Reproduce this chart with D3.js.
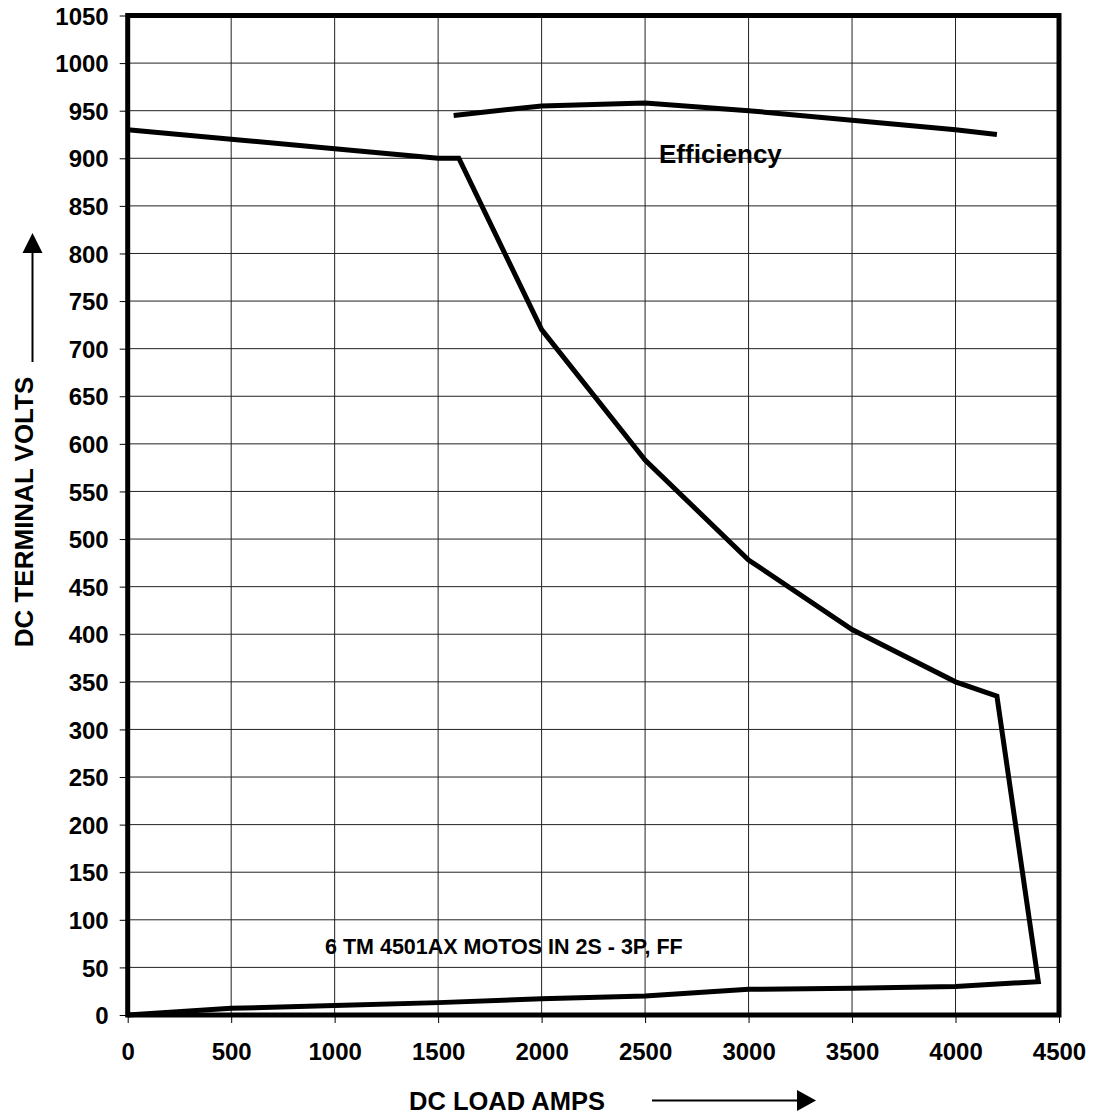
<!DOCTYPE html>
<html>
<head>
<meta charset="utf-8">
<script src="https://cdn.jsdelivr.net/npm/d3@7"></script>
<style>
  body { margin: 0; background: #fff; }
  text { font-family: "Liberation Sans", Arial, sans-serif; font-weight: bold; fill: #000; }
</style>
</head>
<body>
<svg width="1094" height="1115"></svg>
<script>
// load line (volts vs amps), traced round the loop
var loadAmps  = [0, 500, 1000, 1500, 1600, 2000, 2500, 3000, 3500, 4000, 4200, 4400, 4000, 3500, 3000, 2500, 2000, 1500, 1000, 500, 0];
var loadVolts = [930, 920, 910, 900, 900, 720, 583, 478, 405, 350, 335, 35, 30, 28, 27, 20, 17, 13, 10, 7, 0];

// efficiency line
var effAmps  = [1575, 2000, 2500, 3000, 3500, 4000, 4200];
var effVolts = [945, 955, 958, 950, 940, 930, 925];

var xTicks = d3.range(0, 4501, 500);
var yTicks = d3.range(0, 1051, 50);

var margin = { left: 127.7, top: 15.5 };
var width = 931.3, height = 999.5;

var svg = d3.select("svg");
var g = svg.append("g").attr("transform", "translate(" + margin.left + "," + margin.top + ")");

var x = d3.scaleLinear().domain([0, 4500]).range([0, width]);
var y = d3.scaleLinear().domain([0, 1050]).range([height, 0]);

// grid
g.append("g").selectAll("line").data(xTicks).enter().append("line")
  .attr("x1", d => x(d)).attr("x2", d => x(d))
  .attr("y1", 0).attr("y2", height)
  .attr("stroke", "#222").attr("stroke-width", 1);
g.append("g").selectAll("line").data(yTicks).enter().append("line")
  .attr("x1", 0).attr("x2", width)
  .attr("y1", d => y(d)).attr("y2", d => y(d))
  .attr("stroke", "#222").attr("stroke-width", 1);

// axes
var xAxis = g.append("g").attr("transform", "translate(0," + height + ")")
  .call(d3.axisBottom(x).tickValues(xTicks).tickSize(8).tickFormat(d3.format("d")));
xAxis.select(".domain").remove();
xAxis.selectAll("line").attr("stroke", "#000");
xAxis.selectAll("text").attr("y", 45).attr("dy", 0)
  .style("font-size", "24px").attr("fill", "#000");

var yAxis = g.append("g")
  .call(d3.axisLeft(y).tickValues(yTicks).tickSize(8).tickFormat(d3.format("d")));
yAxis.select(".domain").remove();
yAxis.selectAll("line").attr("stroke", "#000");
yAxis.selectAll("text").attr("x", -19).attr("dy", "0.36em")
  .style("font-size", "24px").attr("fill", "#000");

// frame
g.append("rect")
  .attr("width", width).attr("height", height)
  .attr("fill", "none").attr("stroke", "#000").attr("stroke-width", 5);

var line = d3.line().x(d => x(d[0])).y(d => y(d[1]));

g.append("path")
  .datum(d3.zip(loadAmps, loadVolts))
  .attr("d", line)
  .attr("fill", "none").attr("stroke", "#000").attr("stroke-width", 5)
  .attr("stroke-linejoin", "miter");

g.append("path")
  .datum(d3.zip(effAmps, effVolts))
  .attr("d", line)
  .attr("fill", "none").attr("stroke", "#000").attr("stroke-width", 5);

// labels in the plot
svg.append("text").attr("x", 659).attr("y", 163)
  .style("font-size", "26px").text("Efficiency");
svg.append("text").attr("x", 325).attr("y", 954)
  .style("font-size", "21.5px").text("6 TM 4501AX MOTOS IN 2S - 3P, FF");

// axis titles with arrows
svg.append("text").attr("x", 409).attr("y", 1110)
  .style("font-size", "25.5px").text("DC LOAD AMPS");
svg.append("line").attr("x1", 652).attr("x2", 798).attr("y1", 1100.5).attr("y2", 1100.5)
  .attr("stroke", "#000").attr("stroke-width", 2);
svg.append("path").attr("d", "M797,1090L816,1100.5L797,1111Z").attr("fill", "#000");

svg.append("text")
  .attr("transform", "translate(33,512) rotate(-90)")
  .attr("text-anchor", "middle")
  .style("font-size", "26px").text("DC TERMINAL VOLTS");
svg.append("line").attr("x1", 32.5).attr("x2", 32.5).attr("y1", 362).attr("y2", 252)
  .attr("stroke", "#000").attr("stroke-width", 2);
svg.append("path").attr("d", "M22.5,253L32.5,233L42.5,253Z").attr("fill", "#000");
</script>
</body>
</html>
